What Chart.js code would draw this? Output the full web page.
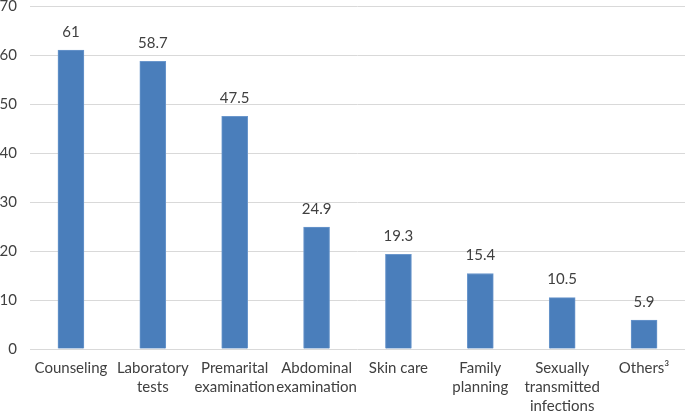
<!DOCTYPE html>
<html>
<head>
<meta charset="utf-8">
<script src="https://cdn.jsdelivr.net/npm/chart.js@4/dist/chart.umd.min.js"></script>
<style>
  html, body { margin: 0; padding: 0; background: #fff; }
  #wrap { width: 685px; height: 413px; }
</style>
</head>
<body>
<div id="wrap"><canvas id="servicesChart" width="685" height="413"></canvas></div>
<script>
const categories = [
  'Counseling',
  ['Laboratory', 'tests'],
  ['Premarital', 'examination'],
  ['Abdominal', 'examination'],
  'Skin care',
  ['Family', 'planning'],
  ['Sexually', 'transmitted', 'infections'],
  'Others³'
];
const percentages = [61, 58.7, 47.5, 24.9, 19.3, 15.4, 10.5, 5.9];
const yTicks = [0, 10, 20, 30, 40, 50, 60, 70];

const FONT = 'Lato, "Open Sans", sans-serif';
const TEXT = '#404040';

// draw the value above each bar
const barLabels = {
  id: 'barLabels',
  afterDatasetsDraw(chart) {
    const ctx = chart.ctx;
    const meta = chart.getDatasetMeta(0);
    ctx.save();
    ctx.font = '15px ' + FONT;
    ctx.fillStyle = TEXT;
    ctx.textAlign = 'center';
    ctx.textBaseline = 'middle';
    meta.data.forEach((bar, i) => {
      ctx.fillText(String(percentages[i]), bar.x, bar.y - 18);
    });
    ctx.restore();
  }
};

const ctx = document.getElementById('servicesChart').getContext('2d');
new Chart(ctx, {
  type: 'bar',
  data: {
    labels: categories,
    datasets: [{
      data: percentages,
      backgroundColor: '#4a7ebb',
      borderColor: '#6b97cc',
      borderWidth: 1,
      barThickness: 26
    }]
  },
  options: {
    responsive: false,
    animation: false,
    layout: { padding: { top: 6, right: 0, left: 0, bottom: 0 } },
    plugins: {
      legend: { display: false },
      tooltip: { enabled: false }
    },
    scales: {
      x: {
        afterFit(scale) {
          scale.height = 64;
          scale.paddingLeft = 0;
          scale.paddingRight = 0;
        },
        grid: { display: false, drawTicks: false },
        border: { display: false },
        ticks: {
          color: TEXT,
          font: { family: FONT, size: 15, lineHeight: 1.27 },
          maxRotation: 0,
          autoSkip: false,
          padding: 10
        }
      },
      y: {
        min: 0,
        max: 70,
        afterBuildTicks(axis) {
          axis.ticks = yTicks.map(v => ({ value: v }));
        },
        afterFit(scale) {
          scale.width = 30;
          scale.paddingTop = 0;
          scale.paddingBottom = 0;
        },
        grid: { color: '#d9d9d9', drawTicks: false },
        border: { display: false },
        ticks: {
          color: TEXT,
          font: { family: FONT, size: 15 },
          padding: 13
        }
      }
    }
  },
  plugins: [barLabels]
});
</script>
</body>
</html>
